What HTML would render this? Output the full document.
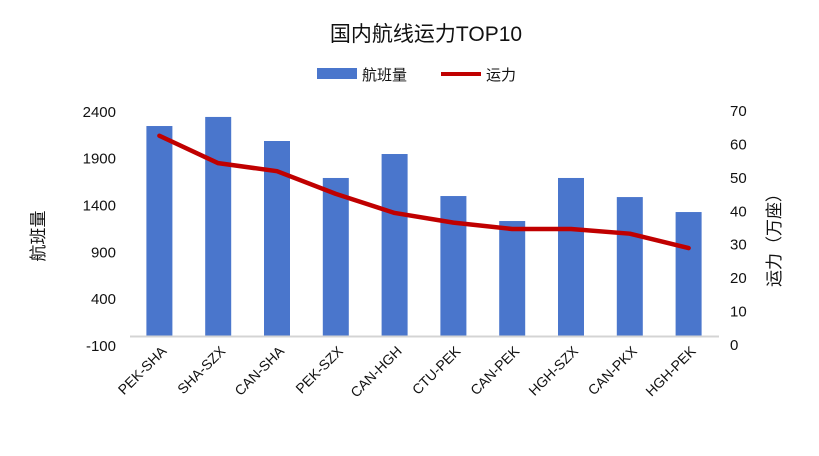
<!DOCTYPE html>
<html><head><meta charset="utf-8"><style>
body{margin:0;background:#fff;font-family:"Liberation Sans","Noto Sans CJK SC",sans-serif;}
svg text{font-family:"Liberation Sans","Noto Sans CJK SC",sans-serif;}
</style></head><body>
<svg id="chart" width="819" height="451" viewBox="0 0 819 451">
<text x="426" y="41" text-anchor="middle" font-size="21" fill="#111">国内航线运力TOP10</text>
<g>
<rect x="317" y="68" width="40" height="11" fill="#4a76cc"/>
<text x="362" y="80" font-size="15" fill="#111">航班量</text>
<line x1="441" y1="74" x2="481" y2="74" stroke="#c00000" stroke-width="4"/>
<text x="486" y="80" font-size="15" fill="#111">运力</text>
</g>
<text transform="translate(44,236) rotate(-90)" text-anchor="middle" font-size="17" fill="#111">航班量</text>
<text transform="translate(780,236) rotate(-90)" text-anchor="middle" font-size="17" fill="#111">运力（万座）</text>
<g id="g"></g>
</svg>
<script>
const categories=["PEK-SHA","SHA-SZX","CAN-SHA","PEK-SZX","CAN-HGH","CTU-PEK","CAN-PEK","HGH-SZX","CAN-PKX","HGH-PEK"];
const flights=[2238,2335,2078,1683,1939,1490,1223,1683,1479,1319];
const capacity=[62.3,54.1,51.7,44.9,39.2,36.3,34.4,34.4,33,28.7];
const leftTicks=[-100,400,900,1400,1900,2400];
const rightTicks=[0,10,20,30,40,50,60,70];
const NS="http://www.w3.org/2000/svg";
const g=document.getElementById('g');
const x0=130,x1=718,step=(x1-x0)/categories.length;
const yL=v=>335.5-v*0.0936;
const yR=v=>344-v*(234/70);
const xC=i=>x0+step*(i+0.5);
function mk(t,a){const e=document.createElementNS(NS,t);for(const k in a)e.setAttribute(k,a[k]);g.appendChild(e);return e;}
leftTicks.forEach(v=>{const t=mk('text',{x:116,y:yL(v)+6,'text-anchor':'end','font-size':15,fill:'#111'});t.textContent=v;

});
rightTicks.forEach(v=>{const t=mk('text',{x:730,y:yR(v)+6,'font-size':15,fill:'#111'});t.textContent=v;

});
flights.forEach((v,i)=>{const r=mk('rect',{x:xC(i)-13,y:yL(v),width:26,height:yL(0)-yL(v),fill:'#4a76cc'});

});
const ax=mk('line',{x1:x0,y1:336.5,x2:x1+1,y2:336.5,stroke:'#d4d4d4','stroke-width':2});


const pl=mk('polyline',{points:capacity.map((v,i)=>xC(i)+','+yR(v)).join(' '),fill:'none',stroke:'#c00000','stroke-width':4.5,'stroke-linejoin':'round','stroke-linecap':'round'});


categories.forEach((c,i)=>{const t=mk('text',{transform:`translate(${xC(i)+8},352) rotate(-45)`,'text-anchor':'end','font-size':14,fill:'#111'});t.textContent=c;

});
</script>
</body></html>
